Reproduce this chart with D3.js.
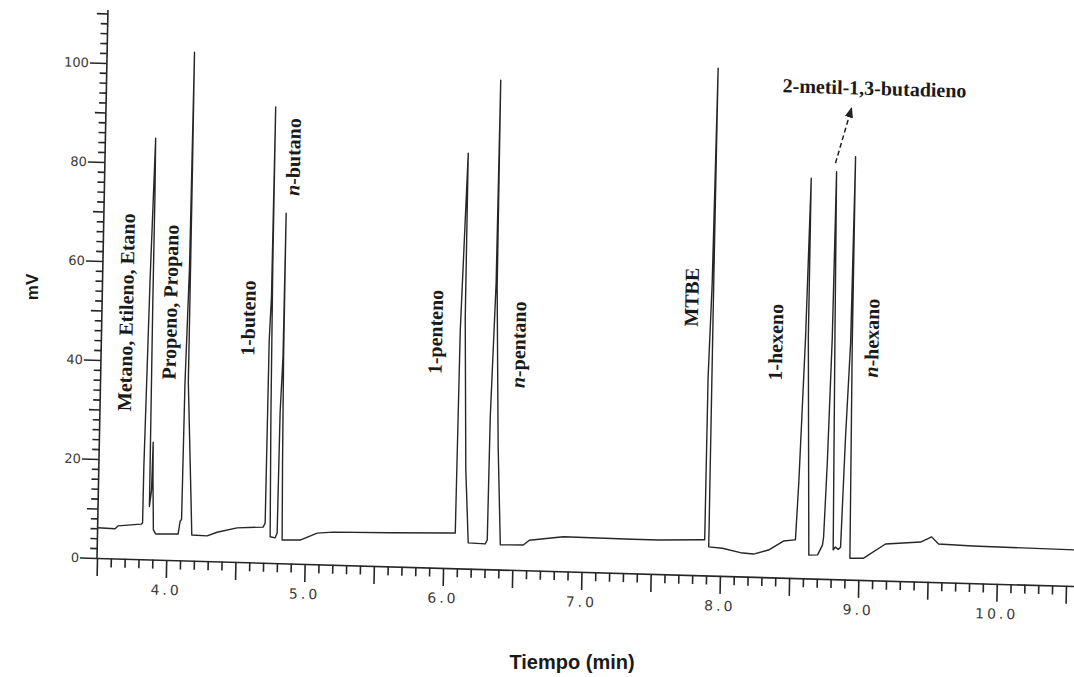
<meta charset="utf-8">
<style type="text/css">
    body { margin: 0; background: #fff; }

    /* the trace itself */
    .trace {
        fill: none;
        stroke: #262626;
        stroke-width: 1.4;
        stroke-linejoin: round;
    }

    .axis path, .axis line {
        stroke: #262626;
        stroke-width: 1.6;
    }

    .axis text {
        font-family: "DejaVu Sans", sans-serif;
        fill: #3a3a3a;
    }

    .peak {
        font-family: "Liberation Serif", "Times New Roman", serif;
        font-weight: bold;
        font-size: 20px;
        fill: #1a1a1a;
    }

    .title {
        font-family: "Liberation Sans", Arial, sans-serif;
        font-weight: bold;
        fill: #1a1a1a;
    }
</style>
<body>

<script src="https://d3js.org/d3.v7.min.js"></script>
<script>

// chromatogram trace: [time (min), signal (mV)]
var trace = [
  [3.500, 6.1], [3.626, 6.0], [3.647, 6.6], [3.813, 7.1],
  // metano, etileno, etano
  [3.824, 7.3], [3.825, 18.4], [3.843, 56.4], [3.863, 85.1], [3.866, 73.2], [3.866, 52.0],
  [3.871, 10.7], [3.884, 14.0], [3.889, 23.7], [3.893, 16.0], [3.903, 6.0], [3.920, 5.2],
  [4.082, 5.3],
  // propeno, propano
  [4.095, 7.9], [4.105, 8.3], [4.110, 35.8], [4.126, 59.3], [4.131, 102.7], [4.133, 80.0],
  [4.134, 36.0], [4.167, 14.6], [4.181, 5.2],
  [4.292, 5.1], [4.363, 5.9], [4.507, 6.9], [4.695, 7.2],
  // 1-buteno
  [4.709, 8.0], [4.712, 45.0], [4.722, 53.7], [4.725, 92.1], [4.727, 60.0], [4.735, 30.0],
  [4.747, 5.3], [4.783, 5.1],
  // n-butano
  [4.797, 6.1], [4.801, 30.3], [4.814, 41.7], [4.816, 70.7], [4.818, 42.0], [4.826, 20.0], [4.834, 4.7],
  [4.964, 4.8], [5.086, 6.3], [5.202, 6.6], [5.613, 6.8], [6.069, 7.1],
  // 1-penteno
  [6.083, 7.1], [6.090, 48.1], [6.122, 83.9], [6.124, 50.6], [6.150, 20.0], [6.178, 5.2], [6.301, 5.1],
  // n-pentano
  [6.315, 5.9], [6.319, 30.7], [6.342, 57.8], [6.346, 98.8], [6.350, 57.0], [6.380, 25.0], [6.410, 5.0],
  [6.576, 5.1], [6.619, 6.1], [6.864, 7.0], [7.363, 6.9], [7.551, 6.9], [7.876, 7.2],
  // MTBE
  [7.885, 7.2], [7.886, 39.9], [7.902, 59.1], [7.914, 102.5], [7.913, 59.1], [7.915, 5.8],
  [8.014, 5.6], [8.145, 4.8], [8.239, 4.6], [8.347, 5.5], [8.454, 7.4], [8.533, 7.7],
  // 1-hexeno
  [8.540, 7.7], [8.556, 19.2], [8.584, 48.7], [8.602, 80.8], [8.604, 48.7], [8.639, 4.7],
  [8.702, 4.8], [8.736, 6.8],
  // 2-metil-1,3-butadieno
  [8.743, 8.4], [8.759, 23.4], [8.777, 48.9], [8.784, 82.3], [8.796, 48.9], [8.814, 5.9],
  [8.830, 6.5], [8.850, 6.0],
  // n-hexano
  [8.867, 6.5], [8.887, 28.8], [8.910, 47.7], [8.919, 85.4], [8.922, 47.7], [8.936, 4.3],
  [9.035, 4.4], [9.191, 7.4], [9.444, 8.0], [9.523, 9.1], [9.574, 7.7], [9.821, 7.5], [10.558, 7.3]
];

// peak labels (vertical), anchored at time / mV of the label centre
var peakNames  = ["Metano, Etileno, Etano", "Propeno, Propano", "1-buteno", "n-butano",
                  "1-penteno", "n-pentano", "MTBE", "1-hexeno", "n-hexano"];
var peakTimes  = [3.674, 3.991, 4.556, 4.858, 5.910, 6.511, 7.754, 8.368, 9.061];
var peakLevels = [49.8, 52.1, 49.3, 82.1, 47.6, 45.5, 56.1, 47.5, 48.9];

// the horizontal label with its arrow
var arrowName = "2-metil-1,3-butadieno";
var arrowLabel = [9.046, 99.4];
var arrowFrom = [8.775, 84.0];
var arrowTo = [8.883, 95.2];

// axis ticks
var xTicks = d3.range(35, 106).map(function(d) { return d / 10; });
var yTicks = d3.range(0, 111, 2);

var width = 977, height = 548;

var x = d3.scaleLinear().domain([3.5, 10.558]).range([0, width]);
var y = d3.scaleLinear().domain([0, 110.7]).range([0, -height]);

var svg = d3.select("body").append("svg")
    .attr("width", 1074)
    .attr("height", 677);

svg.append("rect").attr("width", 1074).attr("height", 677).attr("fill", "#fff");

// the scan is slightly skewed: x axis drops to the right, y axis leans right
var g = svg.append("g")
    .attr("transform", "matrix(1,0.0287,-0.020,1,97,558)");

// x axis
var xAxis = g.append("g")
    .attr("class", "axis")
    .call(d3.axisBottom(x)
        .tickValues(xTicks)
        .tickSizeOuter(0)
        .tickFormat(function(d) {
            var k = Math.round(d * 10);
            return (k % 10 === 0 && k >= 40) ? d.toFixed(1) : "";
        }));

xAxis.selectAll(".tick line")
    .attr("y2", function(d) { return Math.round(d * 10) % 5 === 0 ? 18 : 9; });

xAxis.selectAll(".tick text")
    .attr("y", 25)
    .style("font-size", "14px")
    .style("letter-spacing", "3px");

// y axis
var yAxis = g.append("g")
    .attr("class", "axis")
    .call(d3.axisLeft(y)
        .tickValues(yTicks)
        .tickSizeOuter(0)
        .tickFormat(function(d) { return d % 20 === 0 ? d : ""; }));

yAxis.selectAll(".tick line")
    .attr("x2", function(d) { return d % 20 === 0 ? -17 : (d % 10 === 0 ? -11 : -7); });

yAxis.selectAll(".tick text")
    .attr("x", -18)
    .style("font-size", "13px");

yAxis.select(".domain").attr("d", "M0,0V" + (-height));

// the chromatogram
var valueline = d3.line()
    .x(function(d) { return x(d[0]); })
    .y(function(d) { return y(d[1]); });

g.append("path")
    .datum(trace)
    .attr("class", "trace")
    .attr("d", valueline);

// vertical peak labels
g.selectAll(".peak")
    .data(peakNames)
  .enter().append("text")
    .attr("class", "peak")
    .attr("text-anchor", "middle")
    .attr("dominant-baseline", "central")
    .attr("transform", function(d, i) {
        return "translate(" + x(peakTimes[i]) + "," + y(peakLevels[i]) + ") rotate(-90)";
    })
    .each(function(d) {
        var t = d3.select(this);
        if (d.indexOf("n-") === 0) {
            t.append("tspan").style("font-style", "italic").text("n");
            t.append("tspan").text(d.slice(1));
        } else {
            t.text(d);
        }
    });

// label + dashed arrow for 2-metil-1,3-butadieno
g.append("text")
    .attr("class", "peak")
    .attr("text-anchor", "middle")
    .attr("dominant-baseline", "central")
    .attr("x", x(arrowLabel[0]))
    .attr("y", y(arrowLabel[1]))
    .text(arrowName);

svg.append("defs").append("marker")
    .attr("id", "head")
    .attr("viewBox", "0 0 10 10")
    .attr("refX", 9).attr("refY", 5)
    .attr("markerWidth", 7).attr("markerHeight", 7)
    .attr("orient", "auto")
  .append("path")
    .attr("d", "M0,1L10,5L0,9Z")
    .attr("fill", "#222");

g.append("line")
    .attr("x1", x(arrowFrom[0])).attr("y1", y(arrowFrom[1]))
    .attr("x2", x(arrowTo[0])).attr("y2", y(arrowTo[1]))
    .attr("stroke", "#222")
    .attr("stroke-width", 1.5)
    .attr("stroke-dasharray", "5,3")
    .attr("marker-end", "url(#head)");

// axis titles
svg.append("text")
    .attr("class", "title")
    .attr("transform", "translate(32,287) rotate(-90)")
    .attr("text-anchor", "middle")
    .attr("dominant-baseline", "central")
    .style("font-size", "17px")
    .text("mV");

svg.append("text")
    .attr("class", "title")
    .attr("x", 572)
    .attr("y", 669)
    .attr("text-anchor", "middle")
    .style("font-size", "20px")
    .text("Tiempo (min)");

</script>
</body>
